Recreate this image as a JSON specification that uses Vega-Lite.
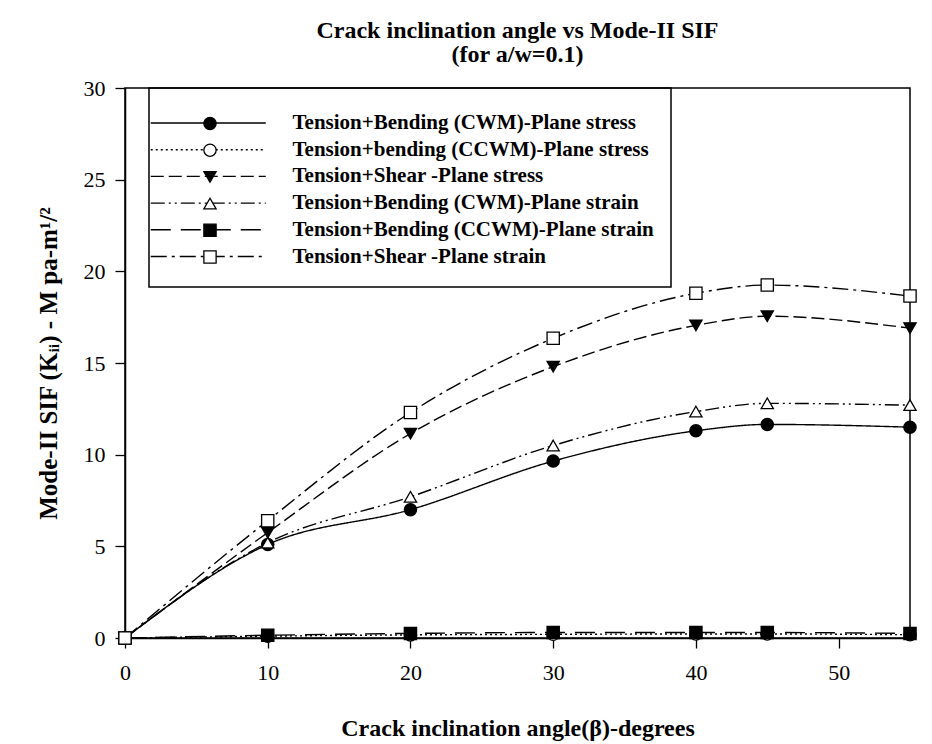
{
  "$schema": "https://vega.github.io/schema/vega-lite/v6.json",
  "width": 785,
  "height": 550,
  "autosize": {"type": "none"},
  "padding": {"left": 125, "top": 88, "right": 22, "bottom": 106},
  "background": "white",
  "title": {
    "text": ["Crack inclination angle vs Mode-II SIF", "(for a/w=0.1)"],
    "frame": "group",
    "anchor": "middle",
    "baseline": "bottom",
    "offset": -14,
    "font": "Liberation Serif",
    "fontSize": 24,
    "fontWeight": "bold",
    "lineHeight": 24,
    "color": "black"
  },
  "data": {
    "values": [
      {"angle": 0, "kii": 0, "series": "Tension+Bending (CWM)-Plane stress"},
      {"angle": 10, "kii": 5.1, "series": "Tension+Bending (CWM)-Plane stress"},
      {"angle": 20, "kii": 7.0, "series": "Tension+Bending (CWM)-Plane stress"},
      {"angle": 30, "kii": 9.65, "series": "Tension+Bending (CWM)-Plane stress"},
      {"angle": 40, "kii": 11.3, "series": "Tension+Bending (CWM)-Plane stress"},
      {"angle": 45, "kii": 11.65, "series": "Tension+Bending (CWM)-Plane stress"},
      {"angle": 55, "kii": 11.5, "series": "Tension+Bending (CWM)-Plane stress"},
      {"angle": 0, "kii": 0, "series": "Tension+bending (CCWM)-Plane stress"},
      {"angle": 10, "kii": 0.1, "series": "Tension+bending (CCWM)-Plane stress"},
      {"angle": 20, "kii": 0.17, "series": "Tension+bending (CCWM)-Plane stress"},
      {"angle": 30, "kii": 0.2, "series": "Tension+bending (CCWM)-Plane stress"},
      {"angle": 40, "kii": 0.22, "series": "Tension+bending (CCWM)-Plane stress"},
      {"angle": 45, "kii": 0.22, "series": "Tension+bending (CCWM)-Plane stress"},
      {"angle": 55, "kii": 0.18, "series": "Tension+bending (CCWM)-Plane stress"},
      {"angle": 0, "kii": 0, "series": "Tension+Shear -Plane stress"},
      {"angle": 10, "kii": 5.75, "series": "Tension+Shear -Plane stress"},
      {"angle": 20, "kii": 11.15, "series": "Tension+Shear -Plane stress"},
      {"angle": 30, "kii": 14.8, "series": "Tension+Shear -Plane stress"},
      {"angle": 40, "kii": 17.05, "series": "Tension+Shear -Plane stress"},
      {"angle": 45, "kii": 17.55, "series": "Tension+Shear -Plane stress"},
      {"angle": 55, "kii": 16.9, "series": "Tension+Shear -Plane stress"},
      {"angle": 0, "kii": 0, "series": "Tension+Bending (CWM)-Plane strain"},
      {"angle": 10, "kii": 5.2, "series": "Tension+Bending (CWM)-Plane strain"},
      {"angle": 20, "kii": 7.7, "series": "Tension+Bending (CWM)-Plane strain"},
      {"angle": 30, "kii": 10.5, "series": "Tension+Bending (CWM)-Plane strain"},
      {"angle": 40, "kii": 12.35, "series": "Tension+Bending (CWM)-Plane strain"},
      {"angle": 45, "kii": 12.8, "series": "Tension+Bending (CWM)-Plane strain"},
      {"angle": 55, "kii": 12.7, "series": "Tension+Bending (CWM)-Plane strain"},
      {"angle": 0, "kii": 0, "series": "Tension+Bending (CCWM)-Plane strain"},
      {"angle": 10, "kii": 0.15, "series": "Tension+Bending (CCWM)-Plane strain"},
      {"angle": 20, "kii": 0.25, "series": "Tension+Bending (CCWM)-Plane strain"},
      {"angle": 30, "kii": 0.3, "series": "Tension+Bending (CCWM)-Plane strain"},
      {"angle": 40, "kii": 0.3, "series": "Tension+Bending (CCWM)-Plane strain"},
      {"angle": 45, "kii": 0.3, "series": "Tension+Bending (CCWM)-Plane strain"},
      {"angle": 55, "kii": 0.25, "series": "Tension+Bending (CCWM)-Plane strain"},
      {"angle": 0, "kii": 0, "series": "Tension+Shear -Plane strain"},
      {"angle": 10, "kii": 6.4, "series": "Tension+Shear -Plane strain"},
      {"angle": 20, "kii": 12.3, "series": "Tension+Shear -Plane strain"},
      {"angle": 30, "kii": 16.35, "series": "Tension+Shear -Plane strain"},
      {"angle": 40, "kii": 18.8, "series": "Tension+Shear -Plane strain"},
      {"angle": 45, "kii": 19.25, "series": "Tension+Shear -Plane strain"},
      {"angle": 55, "kii": 18.65, "series": "Tension+Shear -Plane strain"}
    ]
  },
  "config": {
    "view": {"stroke": "black", "strokeWidth": 1.5},
    "axis": {
      "grid": false,
      "domainColor": "black",
      "domainWidth": 1.5,
      "tickColor": "black",
      "tickWidth": 1.3,
      "tickSize": 10,
      "labelFont": "Liberation Serif",
      "labelFontSize": 22,
      "labelColor": "black",
      "labelFlush": false,
      "titleFont": "Liberation Serif",
      "titleFontSize": 24,
      "titleFontWeight": "bold",
      "titleColor": "black"
    }
  },
  "layer": [
    {
      "mark": {"type": "line", "interpolate": "monotone", "color": "black", "strokeWidth": 1.4, "clip": false},
      "encoding": {
        "x": {"field": "angle", "type": "quantitative", "scale": {"domain": [0, 55], "nice": false},
          "axis": {"values": [0, 10, 20, 30, 40, 50], "title": "Crack inclination angle(β)-degrees", "labelPadding": 14, "titlePadding": 33}},
        "y": {"field": "kii", "type": "quantitative", "scale": {"domain": [0, 30], "nice": false},
          "axis": {"values": [0, 5, 10, 15, 20, 25, 30], "title": "Mode-II SIF (Kᵢᵢ) - M pa-m¹/²", "labelPadding": 10, "titlePadding": 22, "titleFontSize": 25}},
        "strokeDash": {
          "field": "series", "type": "nominal",
          "scale": {
            "domain": ["Tension+Bending (CWM)-Plane stress", "Tension+bending (CCWM)-Plane stress", "Tension+Shear -Plane stress", "Tension+Bending (CWM)-Plane strain", "Tension+Bending (CCWM)-Plane strain", "Tension+Shear -Plane strain"],
            "range": [[1, 0], [2, 3], [13, 5], [14, 4, 2, 4, 2, 4], [20, 10], [16, 5, 3, 5]]
          },
          "legend": {
            "orient": "none", "legendX": 24, "legendY": 0, "padding": 2,
            "title": " ", "titleFontSize": 10, "titlePadding": 12.5,
            "strokeColor": "black",
            "labelFont": "Liberation Serif", "labelFontSize": 21, "labelFontWeight": "bold", "labelColor": "black",
            "labelOffset": 73.75, "labelLimit": 600, "rowPadding": 4.7,
            "symbolSize": 16, "symbolStrokeWidth": 1.4, "symbolStrokeColor": "black", "symbolOffset": 46.75,
            "symbolType": "M-28.75,0H28.75M228.75,0",
            "encode": {
              "legend": {"update": {"strokeWidth": {"value": 1.5}}},
              "symbols": {"update": {"shape": {"signal": "datum.index === 5 ? 'M-28.75,0H28.75M228.75,0M0,12.75' : 'M-28.75,0H28.75M228.75,0'"}}}
            }
          }
        }
      }
    },
    {
      "mark": {"type": "point", "filled": true, "stroke": "black", "strokeWidth": 1.3, "opacity": 1, "size": 150, "clip": false},
      "encoding": {
        "x": {"field": "angle", "type": "quantitative"},
        "y": {"field": "kii", "type": "quantitative"},
        "shape": {
          "field": "series", "type": "nominal",
          "sort": ["Tension+Bending (CWM)-Plane stress", "Tension+bending (CCWM)-Plane stress", "Tension+Shear -Plane stress", "Tension+Bending (CWM)-Plane strain", "Tension+Bending (CCWM)-Plane strain", "Tension+Shear -Plane strain"],
          "scale": {"range": ["circle", "circle", "triangle-down", "triangle-up", "square", "square"]},
          "legend": {
            "orient": "none", "legendX": 74.5, "legendY": 25, "title": null, "padding": 0,
            "labelFont": "Liberation Serif", "labelFontSize": 21, "labelFontWeight": "bold",
            "labelOpacity": 0, "labelExpr": "' '", "labelLimit": 600, "rowPadding": 4.7,
            "symbolSize": 150, "symbolStrokeColor": "black", "symbolStrokeWidth": 1.3, "symbolOpacity": 1,
            "symbolFillColor": "white",
            "encode": {"symbols": {"update": {
              "stroke": {"value": "black"},
              "strokeWidth": {"value": 1.3},
              "fill": {"signal": "datum.index % 2 === 0 ? 'black' : 'white'"}
            }}}
          }
        },
        "fill": {
          "field": "series", "type": "nominal",
          "sort": ["Tension+Bending (CWM)-Plane stress", "Tension+bending (CCWM)-Plane stress", "Tension+Shear -Plane stress", "Tension+Bending (CWM)-Plane strain", "Tension+Bending (CCWM)-Plane strain", "Tension+Shear -Plane strain"],
          "scale": {"range": ["black", "white", "black", "white", "black", "white"]},
          "legend": null
        }
      }
    }
  ]
}
